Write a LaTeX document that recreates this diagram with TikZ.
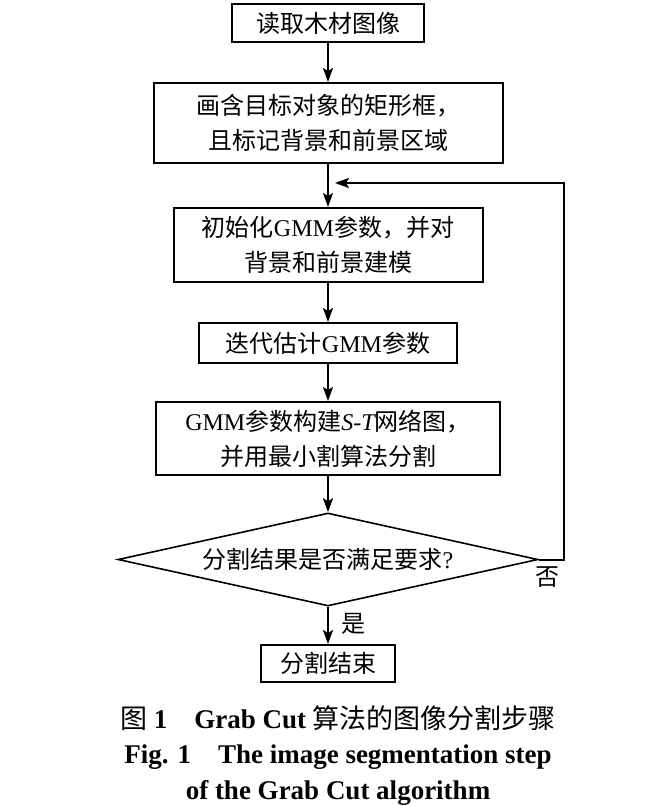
\documentclass[tikz,border=0pt]{standalone}
\usepackage{fontspec}
\setmainfont{Liberation Serif}
\newfontfamily\cjk{Noto Sans CJK SC}
\usetikzlibrary{shapes.geometric,arrows.meta}
\begin{document}
\begin{tikzpicture}[x=1pt,y=-1pt,
  txt/.style={font=\fontsize{24}{35}\selectfont\cjk},
  box/.style={txt, draw, line width=2pt, inner sep=0pt, align=center},
  dec/.style={txt, draw, line width=1.6pt, shape=diamond, aspect=4.516, inner sep=0pt, minimum width=420pt, minimum height=93pt},
  arr/.style={line width=2pt, -{Stealth[length=14pt,width=10pt,inset=3pt]}},
  captext/.style={font=\fontsize{27}{30}\selectfont\bfseries, align=center}]
\path[use as bounding box] (0,0) rectangle (658,806);
\node[box, minimum width=192pt, minimum height=38pt] (n1) at (328,23) {读取木材图像};
\node[box, minimum width=349pt, minimum height=80pt] (n2) at (328,123) {画含目标对象的矩形框，\\且标记背景和前景区域};
\node[box, minimum width=309pt, minimum height=74pt] (n3) at (328,245) {初始化{\rmfamily GMM}参数，并对\\背景和前景建模};
\node[box, minimum width=258pt, minimum height=40pt] (n4) at (328,343) {迭代估计{\rmfamily GMM}参数};
\node[box, minimum width=344pt, minimum height=73pt] (n5) at (328,438.5) {{\rmfamily GMM}参数构建{\rmfamily\itshape S-T}网络图，\\并用最小割算法分割};
\node[dec] (d) at (328,559.5) {分割结果是否满足要求{\rmfamily ?}};
\node[box, minimum width=134pt, minimum height=37pt] (n6) at (328,663.5) {分割结束};
\node[txt] (no) at (547,577) {否};
\node[txt] (yes) at (353,624) {是};
\coordinate (loopend) at (335,183);
\coordinate (r1) at (563.5,559.5);
\coordinate (r2) at (563.5,183);
\draw[arr] (n1) -- (n2);
\draw[arr] (n2) -- (n3);
\draw[arr] (n3) -- (n4);
\draw[arr] (n4) -- (n5);
\draw[arr] (n5.south) -- (d.north);
\draw[arr] (d.south) -- (n6.north);
\draw[arr] (d.east) -- (r1) -- (r2) -- (loopend);
\node[captext] (c1) at (338,718) {{\cjk\mdseries 图}~1\quad Grab Cut {\cjk\mdseries 算法的图像分割步骤}};
\node[captext] (c2) at (338,757) {Fig. 1\quad The image segmentation step};
\node[captext] (c3) at (338,793) {of the Grab Cut algorithm};
\end{tikzpicture}
\end{document}
